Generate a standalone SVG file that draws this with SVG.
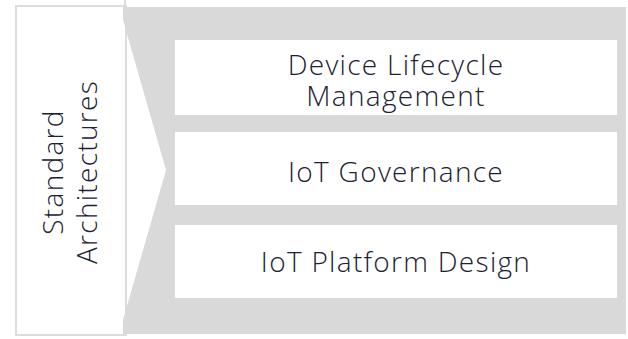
<svg xmlns="http://www.w3.org/2000/svg" width="628" height="339" viewBox="0 0 628 339">
<style>
.t{font-family:"Open Sans",Lato,"Liberation Sans",sans-serif;font-weight:300;font-size:28px;letter-spacing:1.3px;fill:#1b2232;text-anchor:middle}
.box{fill:#ffffff}
</style>
<rect x="0" y="0" width="628" height="339" fill="#ffffff"/>
<g id="standard-architectures">
<rect x="16" y="6" width="110" height="329" fill="#ffffff" stroke="#dcdcdc" stroke-width="2"/>
<line x1="125" y1="0" x2="125" y2="7" stroke="#dcdcdc" stroke-width="2"/>
<text class="t" transform="translate(63,172) rotate(-90)">Standard</text>
<text class="t" transform="translate(97,172) rotate(-90)">Architectures</text>
</g>
<g id="container">
<polygon points="123,7 626,7 626,334 123,334 123,320 166,170 123,20" fill="#d9d9d9"/>
</g>
<g id="device-lifecycle">
<rect class="box" x="175" y="40" width="442" height="75"/>
<text class="t" x="396" y="75">Device Lifecycle</text>
<text class="t" x="396" y="106">Management</text>
</g>
<g id="iot-governance">
<rect class="box" x="175" y="132" width="442" height="73"/>
<text class="t" x="396" y="182">IoT Governance</text>
</g>
<g id="iot-platform-design">
<rect class="box" x="175" y="225" width="442" height="73"/>
<text class="t" x="396" y="272">IoT Platform Design</text>
</g>
<g id="connectors"></g>
</svg>
